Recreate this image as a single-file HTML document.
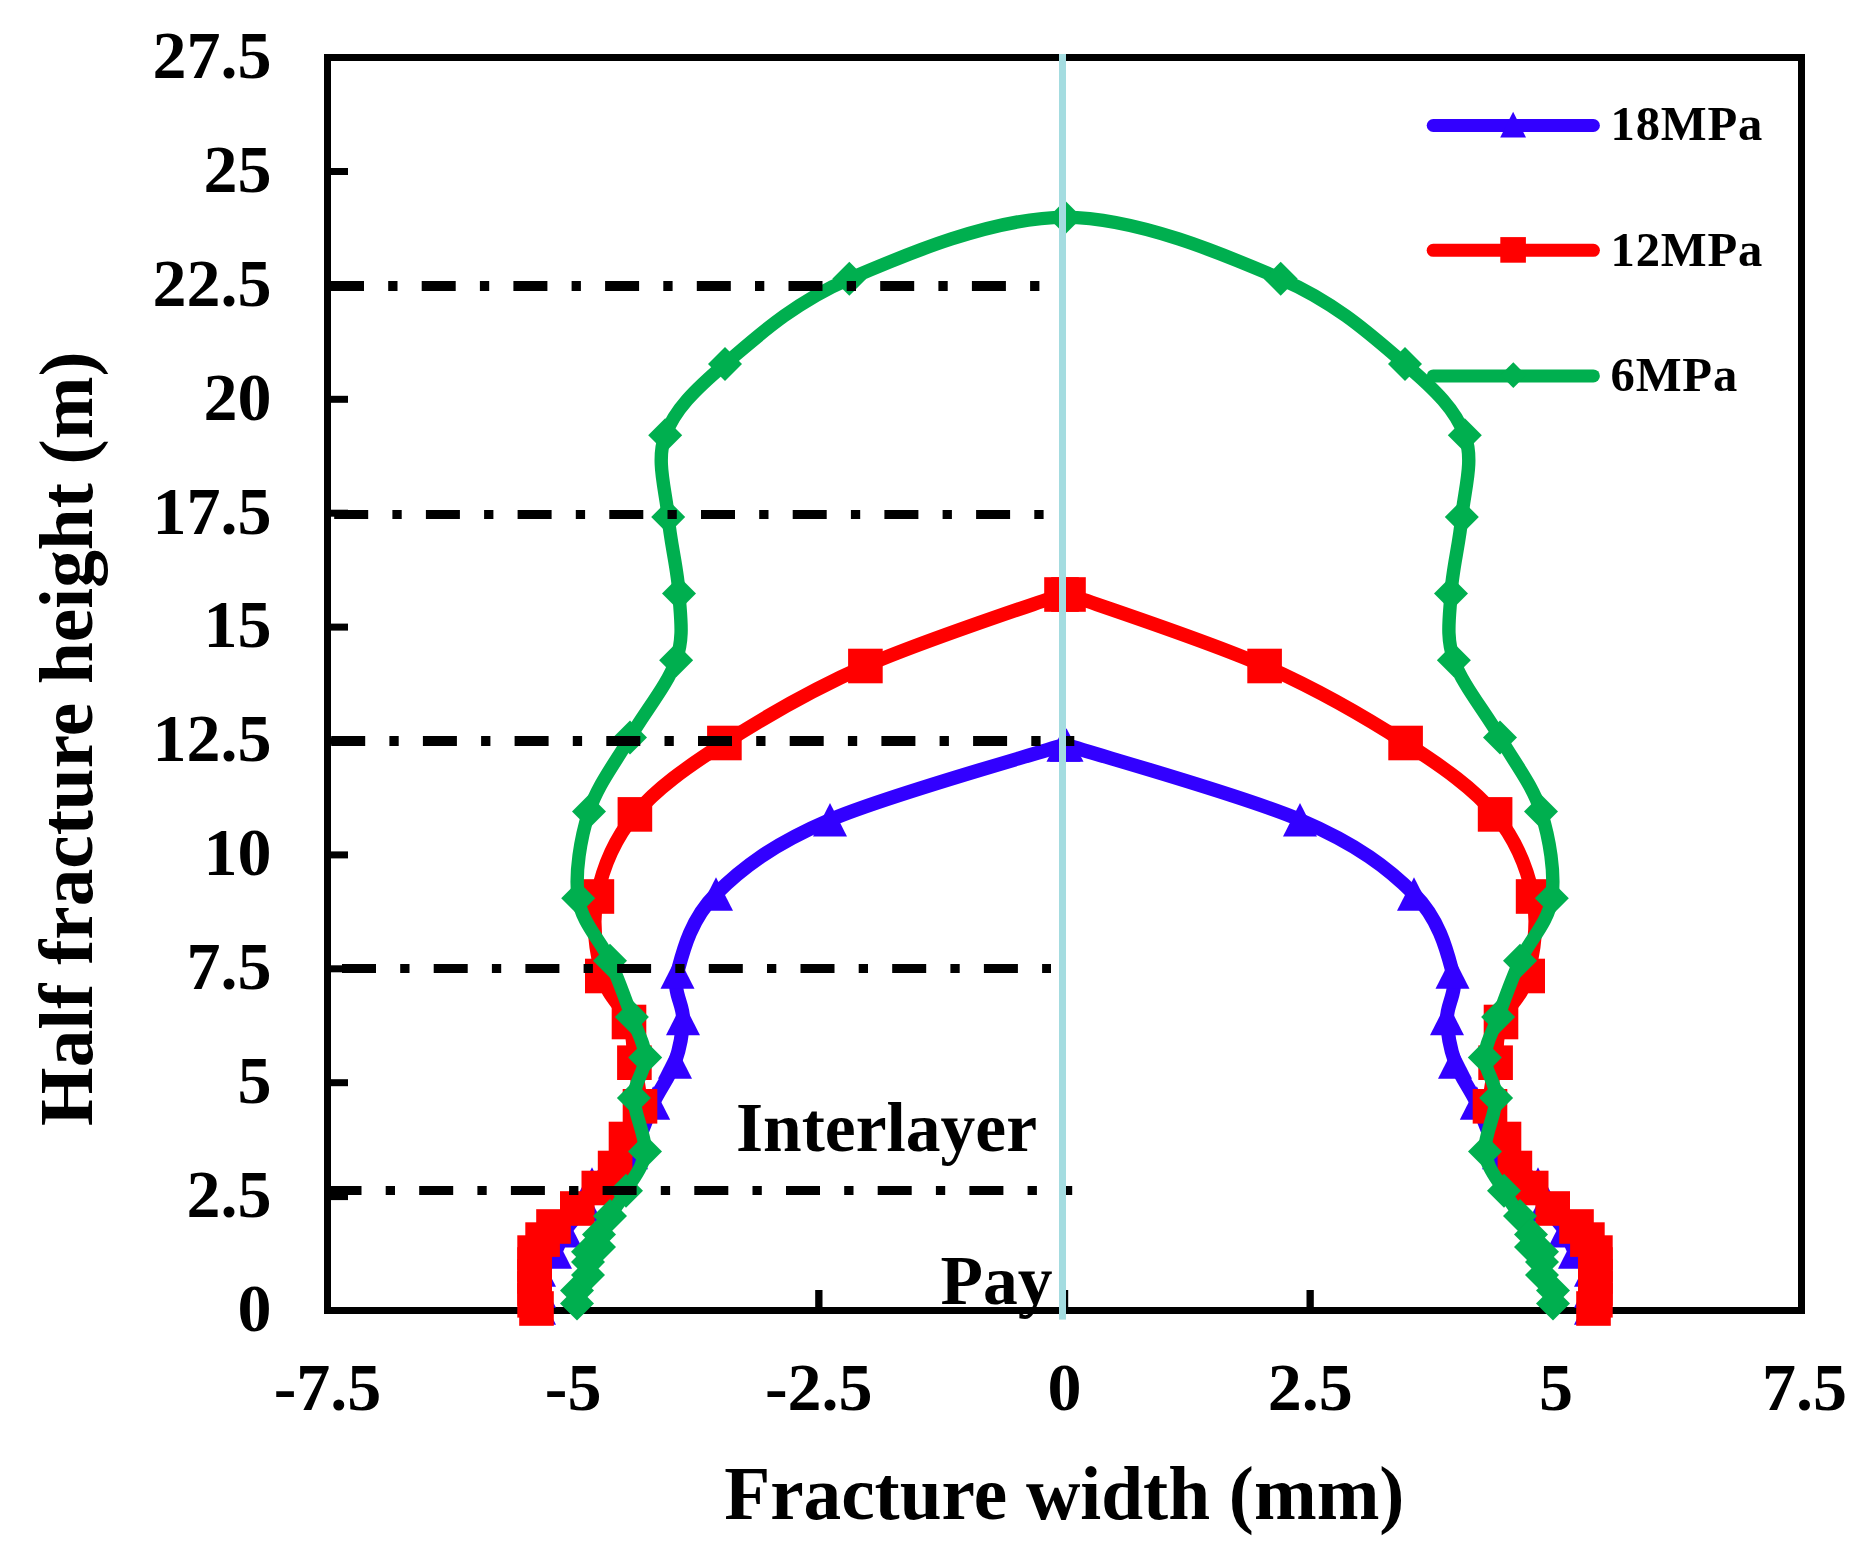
<!DOCTYPE html>
<html lang="en"><head><meta charset="utf-8"><title>Fracture width chart</title>
<style>
html,body{margin:0;padding:0;background:#fff;}
body{width:1875px;height:1551px;overflow:hidden;}
svg{display:block;}
text{font-family:"Liberation Serif",serif;font-weight:bold;fill:#000;}
.tk{font-size:68px;}
.ti{font-size:75.3px;}
.lg{font-size:48.6px;letter-spacing:0.85px;}
.an{font-size:69.5px;}
</style></head><body>
<svg width="1875" height="1551" viewBox="0 0 1875 1551">
<rect x="0" y="0" width="1875" height="1551" fill="#fff"/>

<g fill="#000">
<rect x="330" y="1193.1" width="18" height="7"/>
<rect x="330" y="1079.2" width="18" height="7"/>
<rect x="330" y="965.3" width="18" height="7"/>
<rect x="330" y="851.4" width="18" height="7"/>
<rect x="330" y="737.5" width="18" height="7"/>
<rect x="330" y="623.6" width="18" height="7"/>
<rect x="330" y="509.7" width="18" height="7"/>
<rect x="330" y="395.8" width="18" height="7"/>
<rect x="330" y="281.9" width="18" height="7"/>
<rect x="330" y="168.0" width="18" height="7"/>
<rect x="569.5" y="1290" width="7.3" height="18"/>
<rect x="815.2" y="1290" width="7.3" height="18"/>
<rect x="1060.9" y="1290" width="7.3" height="18"/>
<rect x="1306.5" y="1290" width="7.3" height="18"/>
<rect x="1552.2" y="1290" width="7.3" height="18"/>
</g>
<rect x="327.5" y="57.5" width="1474" height="1253" fill="none" stroke="#000" stroke-width="7"/>
<g fill="#3200FF"><path d="M539.0 1308.0 C539.0 1305.2 539.0 1297.3 539.0 1291.0 C539.0 1284.7 536.3 1276.5 539.0 1270.0 C541.7 1263.5 550.7 1258.5 555.0 1252.0 C559.3 1245.5 560.0 1238.5 565.0 1230.7 C570.0 1222.9 580.5 1212.8 585.0 1205.0 C589.5 1197.2 584.7 1192.3 592.0 1184.0 C599.7 1175.2 620.8 1166.0 631.0 1152.5 C641.2 1139.0 645.9 1118.1 653.2 1103.0 C660.5 1087.9 670.0 1076.1 675.0 1062.0 C680.0 1047.9 682.6 1033.5 683.0 1018.5 C683.4 1003.5 672.0 992.8 677.5 972.0 C683.0 951.2 690.6 919.4 716.0 894.0 C741.4 868.6 772.1 844.7 830.0 819.9 C887.9 795.1 1024.1 757.5 1063.5 745.0 C1064.9 744.5 1065.1 744.5 1066.5 745.0 C1105.9 757.5 1242.1 795.1 1300.0 819.9 C1357.9 844.7 1388.6 868.6 1414.0 894.0 C1439.4 919.4 1447.0 951.2 1452.5 972.0 C1458.0 992.8 1446.6 1003.5 1447.0 1018.5 C1447.4 1033.5 1450.0 1047.9 1455.0 1062.0 C1460.0 1076.1 1469.5 1087.9 1476.8 1103.0 C1484.1 1118.1 1488.8 1139.0 1499.0 1152.5 C1509.2 1166.0 1530.3 1175.2 1538.0 1184.0 C1545.3 1192.3 1540.5 1197.2 1545.0 1205.0 C1549.5 1212.8 1560.0 1222.9 1565.0 1230.7 C1570.0 1238.5 1570.7 1245.5 1575.0 1252.0 C1579.3 1258.5 1588.3 1263.5 1591.0 1270.0 C1593.7 1276.5 1591.0 1284.7 1591.0 1291.0 C1591.0 1297.3 1591.0 1305.2 1591.0 1308.0" fill="none" stroke="#3200FF" stroke-width="14.0" stroke-linecap="round" stroke-linejoin="round"/><path d="M539.0 1291.2 L556.0 1324.8 L522.0 1324.8Z"/><path d="M539.0 1274.2 L556.0 1307.8 L522.0 1307.8Z"/><path d="M539.0 1253.2 L556.0 1286.8 L522.0 1286.8Z"/><path d="M555.0 1235.2 L572.0 1268.8 L538.0 1268.8Z"/><path d="M565.0 1214.0 L582.0 1247.5 L548.0 1247.5Z"/><path d="M585.0 1188.2 L602.0 1221.8 L568.0 1221.8Z"/><path d="M592.0 1167.2 L609.0 1200.8 L575.0 1200.8Z"/><path d="M631.0 1135.8 L648.0 1169.2 L614.0 1169.2Z"/><path d="M653.2 1086.2 L670.2 1119.8 L636.2 1119.8Z"/><path d="M675.0 1045.2 L692.0 1078.8 L658.0 1078.8Z"/><path d="M683.0 1001.8 L700.0 1035.2 L666.0 1035.2Z"/><path d="M677.5 955.2 L694.5 988.8 L660.5 988.8Z"/><path d="M716.0 877.2 L733.0 910.8 L699.0 910.8Z"/><path d="M830.0 803.1 L847.0 836.6 L813.0 836.6Z"/><path d="M1063.5 728.2 L1080.5 761.8 L1046.5 761.8Z"/><path d="M1066.5 728.2 L1083.5 761.8 L1049.5 761.8Z"/><path d="M1300.0 803.1 L1317.0 836.6 L1283.0 836.6Z"/><path d="M1414.0 877.2 L1431.0 910.8 L1397.0 910.8Z"/><path d="M1452.5 955.2 L1469.5 988.8 L1435.5 988.8Z"/><path d="M1447.0 1001.8 L1464.0 1035.2 L1430.0 1035.2Z"/><path d="M1455.0 1045.2 L1472.0 1078.8 L1438.0 1078.8Z"/><path d="M1476.8 1086.2 L1493.8 1119.8 L1459.8 1119.8Z"/><path d="M1499.0 1135.8 L1516.0 1169.2 L1482.0 1169.2Z"/><path d="M1538.0 1167.2 L1555.0 1200.8 L1521.0 1200.8Z"/><path d="M1545.0 1188.2 L1562.0 1221.8 L1528.0 1221.8Z"/><path d="M1565.0 1214.0 L1582.0 1247.5 L1548.0 1247.5Z"/><path d="M1575.0 1235.2 L1592.0 1268.8 L1558.0 1268.8Z"/><path d="M1591.0 1253.2 L1608.0 1286.8 L1574.0 1286.8Z"/><path d="M1591.0 1274.2 L1608.0 1307.8 L1574.0 1307.8Z"/><path d="M1591.0 1291.2 L1608.0 1324.8 L1574.0 1324.8Z"/></g>
<g fill="#FF0000"><path d="M536.5 1308.5 C536.2 1307.1 534.9 1303.6 534.6 1300.3 C534.3 1297.0 534.6 1292.5 534.6 1288.5 C534.6 1284.5 534.6 1280.5 534.6 1276.5 C534.6 1272.5 534.6 1268.5 534.6 1264.5 C534.6 1260.5 533.3 1256.8 534.6 1252.6 C535.9 1248.4 539.5 1243.9 542.6 1239.6 C545.8 1235.2 547.7 1231.7 553.5 1226.5 C559.3 1221.3 569.8 1214.9 577.3 1208.5 C584.8 1202.1 592.5 1194.8 598.8 1188.0 C605.1 1181.2 610.6 1176.2 615.1 1168.0 C619.6 1159.8 621.9 1149.3 626.0 1139.0 C630.1 1128.7 638.6 1119.0 640.0 1106.3 C641.4 1093.6 636.2 1076.8 634.4 1062.7 C632.6 1048.7 634.4 1036.5 629.0 1022.0 C623.6 1007.5 607.6 996.9 602.3 976.0 C596.9 955.1 591.5 923.4 596.9 896.5 C602.3 869.6 613.6 840.0 634.9 814.4 C656.1 788.8 686.0 767.7 724.4 743.0 C762.8 718.3 809.2 690.8 865.4 666.0 C921.6 641.2 1027.7 606.4 1061.5 594.5 C1064.8 593.3 1065.2 593.3 1068.5 594.5 C1102.3 606.4 1208.4 641.2 1264.6 666.0 C1320.8 690.8 1367.2 718.3 1405.6 743.0 C1444.0 767.7 1473.8 788.8 1495.1 814.4 C1516.3 840.0 1527.7 869.6 1533.1 896.5 C1538.5 923.4 1533.0 955.1 1527.7 976.0 C1522.4 996.9 1506.3 1007.5 1501.0 1022.0 C1495.7 1036.5 1497.4 1048.7 1495.6 1062.7 C1493.8 1076.8 1488.6 1093.6 1490.0 1106.3 C1491.4 1119.0 1499.8 1128.7 1504.0 1139.0 C1508.2 1149.3 1510.4 1159.8 1514.9 1168.0 C1519.4 1176.2 1524.9 1181.2 1531.2 1188.0 C1537.5 1194.8 1545.2 1202.1 1552.7 1208.5 C1560.2 1214.9 1570.7 1221.3 1576.5 1226.5 C1582.3 1231.7 1584.2 1235.2 1587.4 1239.6 C1590.6 1243.9 1594.1 1248.4 1595.4 1252.6 C1596.7 1256.8 1595.4 1260.5 1595.4 1264.5 C1595.4 1268.5 1595.4 1272.5 1595.4 1276.5 C1595.4 1280.5 1595.4 1284.5 1595.4 1288.5 C1595.4 1292.5 1595.7 1297.0 1595.4 1300.3 C1595.1 1303.6 1593.8 1307.1 1593.5 1308.5" fill="none" stroke="#FF0000" stroke-width="14.0" stroke-linecap="round" stroke-linejoin="round"/><rect x="519.2" y="1291.2" width="34.6" height="34.6"/><rect x="517.3" y="1283.0" width="34.6" height="34.6"/><rect x="517.3" y="1271.2" width="34.6" height="34.6"/><rect x="517.3" y="1259.2" width="34.6" height="34.6"/><rect x="517.3" y="1247.2" width="34.6" height="34.6"/><rect x="517.3" y="1235.3" width="34.6" height="34.6"/><rect x="525.3" y="1222.3" width="34.6" height="34.6"/><rect x="536.2" y="1209.2" width="34.6" height="34.6"/><rect x="560.0" y="1191.2" width="34.6" height="34.6"/><rect x="581.5" y="1170.7" width="34.6" height="34.6"/><rect x="597.8" y="1150.7" width="34.6" height="34.6"/><rect x="608.7" y="1121.7" width="34.6" height="34.6"/><rect x="622.7" y="1089.0" width="34.6" height="34.6"/><rect x="617.1" y="1045.4" width="34.6" height="34.6"/><rect x="611.7" y="1004.7" width="34.6" height="34.6"/><rect x="585.0" y="958.7" width="34.6" height="34.6"/><rect x="579.6" y="879.2" width="34.6" height="34.6"/><rect x="617.6" y="797.1" width="34.6" height="34.6"/><rect x="707.1" y="725.7" width="34.6" height="34.6"/><rect x="848.1" y="648.7" width="34.6" height="34.6"/><rect x="1044.2" y="577.2" width="34.6" height="34.6"/><rect x="1051.2" y="577.2" width="34.6" height="34.6"/><rect x="1247.3" y="648.7" width="34.6" height="34.6"/><rect x="1388.3" y="725.7" width="34.6" height="34.6"/><rect x="1477.8" y="797.1" width="34.6" height="34.6"/><rect x="1515.8" y="879.2" width="34.6" height="34.6"/><rect x="1510.4" y="958.7" width="34.6" height="34.6"/><rect x="1483.7" y="1004.7" width="34.6" height="34.6"/><rect x="1478.3" y="1045.4" width="34.6" height="34.6"/><rect x="1472.7" y="1089.0" width="34.6" height="34.6"/><rect x="1486.7" y="1121.7" width="34.6" height="34.6"/><rect x="1497.6" y="1150.7" width="34.6" height="34.6"/><rect x="1513.9" y="1170.7" width="34.6" height="34.6"/><rect x="1535.4" y="1191.2" width="34.6" height="34.6"/><rect x="1559.2" y="1209.2" width="34.6" height="34.6"/><rect x="1570.1" y="1222.3" width="34.6" height="34.6"/><rect x="1578.1" y="1235.3" width="34.6" height="34.6"/><rect x="1578.1" y="1247.2" width="34.6" height="34.6"/><rect x="1578.1" y="1259.2" width="34.6" height="34.6"/><rect x="1578.1" y="1271.2" width="34.6" height="34.6"/><rect x="1578.1" y="1283.0" width="34.6" height="34.6"/><rect x="1576.2" y="1291.2" width="34.6" height="34.6"/></g>
<g fill="#00AF4F"><path d="M577.0 1303.5 C577.0 1301.3 575.2 1295.2 577.0 1290.5 C578.8 1285.8 586.2 1279.7 588.0 1275.0 C589.8 1270.3 588.0 1266.0 588.0 1262.1 C588.0 1258.2 586.2 1254.2 588.0 1251.7 C589.8 1249.2 597.2 1249.9 599.0 1247.0 C600.8 1244.1 597.2 1239.7 599.0 1234.5 C600.8 1229.3 605.5 1223.3 610.0 1216.0 C614.5 1208.7 620.2 1201.4 626.0 1190.7 C631.8 1180.0 643.7 1167.1 645.0 1151.6 C646.3 1136.1 633.9 1113.6 633.9 1097.9 C633.9 1082.2 645.5 1070.9 645.2 1057.4 C644.9 1043.9 637.8 1033.2 631.9 1017.1 C626.0 1001.0 619.0 980.5 610.0 960.7 C601.0 940.9 581.7 923.1 578.2 898.2 C574.7 873.4 580.4 838.4 589.0 811.6 C597.6 784.8 615.5 762.7 630.0 737.5 C644.5 712.3 667.9 684.3 676.1 660.3 C684.3 636.3 680.3 617.4 679.0 593.5 C677.7 569.6 670.5 543.4 668.2 517.0 C665.9 490.6 655.7 460.8 665.2 435.3 C674.7 409.8 694.3 390.2 725.0 364.1 C755.7 338.0 792.6 303.2 849.3 278.8 C906.0 254.4 993.1 217.4 1065.0 217.4 C1136.9 217.4 1224.0 254.4 1280.7 278.8 C1337.4 303.2 1374.3 338.0 1405.0 364.1 C1435.7 390.2 1455.3 409.8 1464.8 435.3 C1474.3 460.8 1464.1 490.6 1461.8 517.0 C1459.5 543.4 1452.3 569.6 1451.0 593.5 C1449.7 617.4 1445.7 636.3 1453.9 660.3 C1462.1 684.3 1485.5 712.3 1500.0 737.5 C1514.5 762.7 1532.4 784.8 1541.0 811.6 C1549.6 838.4 1555.3 873.4 1551.8 898.2 C1548.3 923.1 1529.0 940.9 1520.0 960.7 C1511.0 980.5 1504.0 1001.0 1498.1 1017.1 C1492.2 1033.2 1485.1 1043.9 1484.8 1057.4 C1484.5 1070.9 1496.1 1082.2 1496.1 1097.9 C1496.1 1113.6 1483.7 1136.1 1485.0 1151.6 C1486.3 1167.1 1498.2 1180.0 1504.0 1190.7 C1509.8 1201.4 1515.5 1208.7 1520.0 1216.0 C1524.5 1223.3 1529.2 1229.3 1531.0 1234.5 C1532.8 1239.7 1529.2 1244.1 1531.0 1247.0 C1532.8 1249.9 1540.2 1249.2 1542.0 1251.7 C1543.8 1254.2 1542.0 1258.2 1542.0 1262.1 C1542.0 1266.0 1540.2 1270.3 1542.0 1275.0 C1543.8 1279.7 1551.2 1285.8 1553.0 1290.5 C1554.8 1295.2 1553.0 1301.3 1553.0 1303.5" fill="none" stroke="#00AF4F" stroke-width="13.4" stroke-linecap="round" stroke-linejoin="round"/><path d="M577.0 1286.5 L594.0 1303.5 L577.0 1320.5 L560.0 1303.5Z"/><path d="M577.0 1273.5 L594.0 1290.5 L577.0 1307.5 L560.0 1290.5Z"/><path d="M588.0 1258.0 L605.0 1275.0 L588.0 1292.0 L571.0 1275.0Z"/><path d="M588.0 1245.1 L605.0 1262.1 L588.0 1279.1 L571.0 1262.1Z"/><path d="M588.0 1234.7 L605.0 1251.7 L588.0 1268.7 L571.0 1251.7Z"/><path d="M599.0 1230.0 L616.0 1247.0 L599.0 1264.0 L582.0 1247.0Z"/><path d="M599.0 1217.5 L616.0 1234.5 L599.0 1251.5 L582.0 1234.5Z"/><path d="M610.0 1199.0 L627.0 1216.0 L610.0 1233.0 L593.0 1216.0Z"/><path d="M626.0 1173.7 L643.0 1190.7 L626.0 1207.7 L609.0 1190.7Z"/><path d="M645.0 1134.6 L662.0 1151.6 L645.0 1168.6 L628.0 1151.6Z"/><path d="M633.9 1080.9 L650.9 1097.9 L633.9 1114.9 L616.9 1097.9Z"/><path d="M645.2 1040.4 L662.2 1057.4 L645.2 1074.4 L628.2 1057.4Z"/><path d="M631.9 1000.1 L648.9 1017.1 L631.9 1034.1 L614.9 1017.1Z"/><path d="M610.0 943.7 L627.0 960.7 L610.0 977.7 L593.0 960.7Z"/><path d="M578.2 881.2 L595.2 898.2 L578.2 915.2 L561.2 898.2Z"/><path d="M589.0 794.6 L606.0 811.6 L589.0 828.6 L572.0 811.6Z"/><path d="M630.0 720.5 L647.0 737.5 L630.0 754.5 L613.0 737.5Z"/><path d="M676.1 643.3 L693.1 660.3 L676.1 677.3 L659.1 660.3Z"/><path d="M679.0 576.5 L696.0 593.5 L679.0 610.5 L662.0 593.5Z"/><path d="M668.2 500.0 L685.2 517.0 L668.2 534.0 L651.2 517.0Z"/><path d="M665.2 418.3 L682.2 435.3 L665.2 452.3 L648.2 435.3Z"/><path d="M725.0 347.1 L742.0 364.1 L725.0 381.1 L708.0 364.1Z"/><path d="M849.3 261.8 L866.3 278.8 L849.3 295.8 L832.3 278.8Z"/><path d="M1065.0 200.4 L1082.0 217.4 L1065.0 234.4 L1048.0 217.4Z"/><path d="M1280.7 261.8 L1297.7 278.8 L1280.7 295.8 L1263.7 278.8Z"/><path d="M1405.0 347.1 L1422.0 364.1 L1405.0 381.1 L1388.0 364.1Z"/><path d="M1464.8 418.3 L1481.8 435.3 L1464.8 452.3 L1447.8 435.3Z"/><path d="M1461.8 500.0 L1478.8 517.0 L1461.8 534.0 L1444.8 517.0Z"/><path d="M1451.0 576.5 L1468.0 593.5 L1451.0 610.5 L1434.0 593.5Z"/><path d="M1453.9 643.3 L1470.9 660.3 L1453.9 677.3 L1436.9 660.3Z"/><path d="M1500.0 720.5 L1517.0 737.5 L1500.0 754.5 L1483.0 737.5Z"/><path d="M1541.0 794.6 L1558.0 811.6 L1541.0 828.6 L1524.0 811.6Z"/><path d="M1551.8 881.2 L1568.8 898.2 L1551.8 915.2 L1534.8 898.2Z"/><path d="M1520.0 943.7 L1537.0 960.7 L1520.0 977.7 L1503.0 960.7Z"/><path d="M1498.1 1000.1 L1515.1 1017.1 L1498.1 1034.1 L1481.1 1017.1Z"/><path d="M1484.8 1040.4 L1501.8 1057.4 L1484.8 1074.4 L1467.8 1057.4Z"/><path d="M1496.1 1080.9 L1513.1 1097.9 L1496.1 1114.9 L1479.1 1097.9Z"/><path d="M1485.0 1134.6 L1502.0 1151.6 L1485.0 1168.6 L1468.0 1151.6Z"/><path d="M1504.0 1173.7 L1521.0 1190.7 L1504.0 1207.7 L1487.0 1190.7Z"/><path d="M1520.0 1199.0 L1537.0 1216.0 L1520.0 1233.0 L1503.0 1216.0Z"/><path d="M1531.0 1217.5 L1548.0 1234.5 L1531.0 1251.5 L1514.0 1234.5Z"/><path d="M1531.0 1230.0 L1548.0 1247.0 L1531.0 1264.0 L1514.0 1247.0Z"/><path d="M1542.0 1234.7 L1559.0 1251.7 L1542.0 1268.7 L1525.0 1251.7Z"/><path d="M1542.0 1245.1 L1559.0 1262.1 L1542.0 1279.1 L1525.0 1262.1Z"/><path d="M1542.0 1258.0 L1559.0 1275.0 L1542.0 1292.0 L1525.0 1275.0Z"/><path d="M1553.0 1273.5 L1570.0 1290.5 L1553.0 1307.5 L1536.0 1290.5Z"/><path d="M1553.0 1286.5 L1570.0 1303.5 L1553.0 1320.5 L1536.0 1303.5Z"/></g>
<line x1="330.0" y1="285.9" x2="1040.2" y2="285.9" stroke="#000" stroke-width="10" stroke-dasharray="34 24.2 9.3 24.2"/>
<line x1="334.2" y1="514.5" x2="1044.4" y2="514.5" stroke="#000" stroke-width="9" stroke-dasharray="34 24.2 9.3 24.2"/>
<line x1="331.2" y1="741.0" x2="1074.3" y2="741.0" stroke="#000" stroke-width="10" stroke-dasharray="34 24.2 9.3 24.2"/>
<line x1="342.0" y1="968.5" x2="1051.0" y2="968.5" stroke="#000" stroke-width="9" stroke-dasharray="34 24.2 9.3 24.2"/>
<line x1="327.5" y1="1190.4" x2="1072.2" y2="1190.4" stroke="#000" stroke-width="9" stroke-dasharray="34 24.2 9.3 24.2"/>
<rect x="1059" y="54" width="7" height="1265.6" fill="#A4DCE0"/>
<line x1="1433.2" y1="125.5" x2="1593.4" y2="125.5" stroke="#3200FF" stroke-width="13" stroke-linecap="round"/>
<line x1="1433.2" y1="250.3" x2="1593.4" y2="250.3" stroke="#FF0000" stroke-width="13" stroke-linecap="round"/>
<line x1="1433.2" y1="375.9" x2="1593.4" y2="375.9" stroke="#00AF4F" stroke-width="13" stroke-linecap="round"/>
<g fill="#3200FF"><path d="M1513.1 111.8 L1526.0 137.4 L1500.2 137.4Z"/></g>
<g fill="#FF0000"><rect x="1500.3" y="237.1" width="25.6" height="25.6"/></g>
<g fill="#00AF4F"><path d="M1513.3 362.3 L1526.1 375.1 L1513.3 387.9 L1500.5 375.1Z"/></g>
<text class="lg" x="1610.5" y="139.6">18MPa</text>
<text class="lg" x="1610.5" y="266.3">12MPa</text>
<text class="lg" x="1610.5" y="390.8">6MPa</text>
<text class="tk" text-anchor="end" x="271.5" y="1330.8">0</text>
<text class="tk" text-anchor="end" x="271.5" y="1216.9">2.5</text>
<text class="tk" text-anchor="end" x="271.5" y="1103.0">5</text>
<text class="tk" text-anchor="end" x="271.5" y="989.1">7.5</text>
<text class="tk" text-anchor="end" x="271.5" y="875.2">10</text>
<text class="tk" text-anchor="end" x="271.5" y="761.3">12.5</text>
<text class="tk" text-anchor="end" x="271.5" y="647.4">15</text>
<text class="tk" text-anchor="end" x="271.5" y="533.5">17.5</text>
<text class="tk" text-anchor="end" x="271.5" y="419.6">20</text>
<text class="tk" text-anchor="end" x="271.5" y="305.7">22.5</text>
<text class="tk" text-anchor="end" x="271.5" y="191.8">25</text>
<text class="tk" text-anchor="end" x="271.5" y="77.9">27.5</text>
<text class="tk" text-anchor="middle" x="327.5" y="1410.2">-7.5</text>
<text class="tk" text-anchor="middle" x="573.2" y="1410.2">-5</text>
<text class="tk" text-anchor="middle" x="818.8" y="1410.2">-2.5</text>
<text class="tk" text-anchor="middle" x="1064.5" y="1410.2">0</text>
<text class="tk" text-anchor="middle" x="1310.2" y="1410.2">2.5</text>
<text class="tk" text-anchor="middle" x="1555.9" y="1410.2">5</text>
<text class="tk" text-anchor="middle" x="1804.5" y="1410.2">7.5</text>
<text class="ti" text-anchor="middle" x="1064.3" y="1518.7">Fracture width (mm)</text>
<text class="ti" text-anchor="middle" transform="translate(92 738.7) rotate(-90)">Half fracture height (m)</text>
<text class="an" x="736" y="1151">Interlayer</text>
<text class="an" x="940.5" y="1304.3">Pay</text>
</svg></body></html>
